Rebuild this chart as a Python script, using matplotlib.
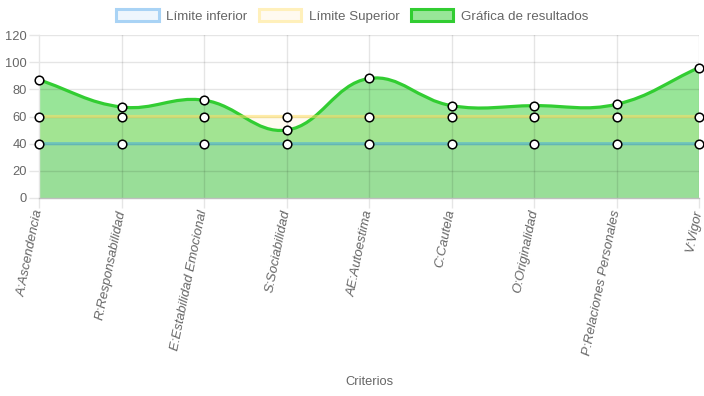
import numpy as np
import matplotlib
matplotlib.use("Agg")
import matplotlib.pyplot as plt
from matplotlib.path import Path
from matplotlib.patches import PathPatch, Patch

categories = ["A:Ascendencia", "R:Responsabilidad", "E:Estabilidad Emocional",
              "S:Sociabilidad", "AE:Autoestima", "C:Cautela", "O:Originalidad",
              "P:Relaciones Personales", "V:Vigor"]
limite_inferior = [40, 40, 40, 40, 40, 40, 40, 40, 40]
limite_superior = [60, 60, 60, 60, 60, 60, 60, 60, 60]
resultados = [87, 67, 72, 50, 88, 68, 68, 69, 96]
y_ticks = [0, 20, 40, 60, 80, 100, 120]
legend_labels = ["Límite inferior", "Límite Superior", "Gráfica de resultados"]
x_title = "Criterios"

plt.rcParams['font.family'] = ['Liberation Sans', 'DejaVu Sans']
TXT = '#666666'
FS = 9.3

fig = plt.figure(figsize=(7.04, 3.96), dpi=100)
W, H = 704, 396
left, right, top, bottom = 39, 699, 35, 198
ax = fig.add_axes([left / W, 1 - bottom / H, (right - left) / W, (bottom - top) / H])
x = np.arange(len(categories))
ax.set_xlim(0, len(categories) - 1)
ax.set_ylim(0, 120)

blue_line = (0.212, 0.635, 0.922)
yel_line = (1.0, 0.87, 0.39)
green_line = (0.196, 0.804, 0.196)


def spline_verts(xs, ys, t=0.4):
    pts = ax.transData.transform(np.column_stack([xs, ys]))
    n = len(pts)
    cprev = np.zeros_like(pts)
    cnext = np.zeros_like(pts)
    for i in range(n):
        cur = pts[i]
        prev = pts[i - 1] if i > 0 else cur
        nxt = pts[i + 1] if i < n - 1 else cur
        d01 = np.hypot(*(cur - prev))
        d12 = np.hypot(*(nxt - cur))
        s = d01 + d12
        s01 = d01 / s if s else 0
        s12 = d12 / s if s else 0
        cprev[i] = cur - t * s01 * (nxt - prev)
        cnext[i] = cur + t * s12 * (nxt - prev)
    verts = [pts[0]]
    codes = [Path.MOVETO]
    for i in range(n - 1):
        verts += [cnext[i], cprev[i + 1], pts[i + 1]]
        codes += [Path.CURVE4] * 3
    inv = ax.transData.inverted()
    return inv.transform(np.array(verts)), codes


def draw_fill(ys, color, alpha, z):
    v, c = spline_verts(x, ys)
    fv = list(v) + [(x[-1], 0), (x[0], 0), v[0]]
    fc = list(c) + [Path.LINETO, Path.LINETO, Path.CLOSEPOLY]
    ax.add_patch(PathPatch(Path(fv, fc), facecolor=color, alpha=alpha, edgecolor='none',
                           linewidth=0, zorder=z))
    return v, c

gv, gc = draw_fill(resultados, green_line, 0.5, 1)
yv, yc = draw_fill(limite_superior, yel_line, 0.10, 1.1)
bv, bc = draw_fill(limite_inferior, blue_line, 0.08, 1.2)

for yt in y_ticks[1:]:
    ax.axhline(yt, color='black', alpha=0.1, linewidth=1.0, zorder=2)
for xt in x[1:]:
    ax.axvline(xt, color='black', alpha=0.1, linewidth=1.0, zorder=2)

ax.add_patch(PathPatch(Path(gv, gc), facecolor='none', edgecolor=green_line, lw=2.3,
                       capstyle='round', zorder=3))
ax.add_patch(PathPatch(Path(yv, yc), facecolor='none', edgecolor=yel_line, alpha=0.55,
                       lw=2.3, zorder=3.1))
ax.add_patch(PathPatch(Path(bv, bc), facecolor='none', edgecolor=blue_line, alpha=0.45,
                       lw=2.3, zorder=3.2))

for ys in (resultados, limite_superior, limite_inferior):
    ax.plot(x, ys, linestyle='none', marker='o', markersize=6.2, markerfacecolor='white',
            markeredgecolor='black', markeredgewidth=1.1, zorder=5, clip_on=False)

ax.set_yticks(y_ticks)
ax.set_xticks(x)
for s in ['top', 'right']:
    ax.spines[s].set_visible(False)
ax.spines['left'].set_color('#e6e6e6')
ax.spines['left'].set_linewidth(1.0)
ax.spines['bottom'].set_color('#bfbfbf')
ax.spines['bottom'].set_linewidth(1.0)
ax.tick_params(axis='both', color='#e6e6e6', width=1.0, length=7.2, labelcolor=TXT,
               labelsize=FS, pad=1.5)
ax.set_xticklabels(categories, rotation=78.5, ha='right', va='center', rotation_mode='anchor',
                   fontstyle='italic', fontsize=9.5)

ax.set_xlabel(x_title, color=TXT, fontsize=FS, va='center')
ax.xaxis.set_label_coords(0.5, (bottom - 382) / (bottom - top))

handles = [
    Patch(facecolor='#eef6fd', edgecolor='#a9d3f5', linewidth=2.2),
    Patch(facecolor='#fffaf0', edgecolor='#fff0bb', linewidth=2.2),
    Patch(facecolor='#98e698', edgecolor='#32cd32', linewidth=2.2),
]
leg = fig.legend(handles, legend_labels, loc='center', bbox_to_anchor=(0.5, 1 - 16 / H),
                 ncol=3, frameon=False, fontsize=9.6, handlelength=3.2, handleheight=0.95,
                 handletextpad=0.55, columnspacing=0.85, borderaxespad=0, borderpad=0)
for t in leg.get_texts():
    t.set_color(TXT)

fig.savefig('out.png', dpi=100)
